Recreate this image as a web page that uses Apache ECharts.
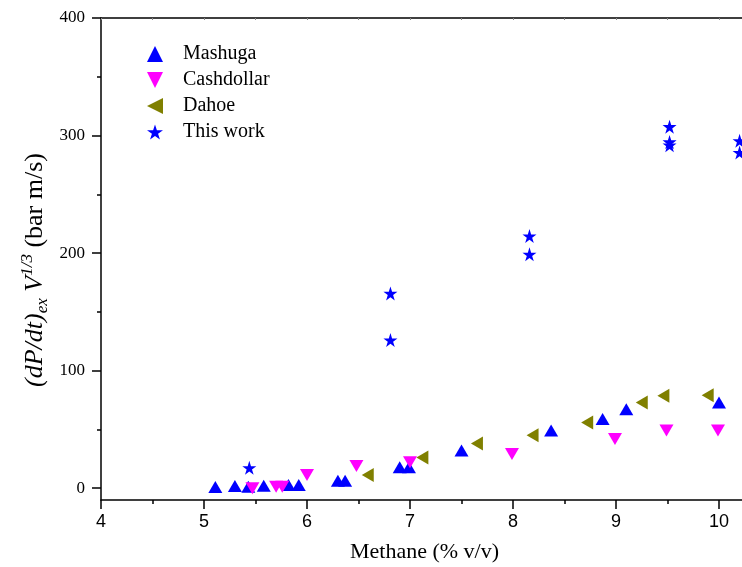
<!DOCTYPE html>
<html>
<head>
<meta charset="utf-8">
<script src="https://cdn.jsdelivr.net/npm/echarts@6/dist/echarts.min.js"></script>
<style>
html,body{margin:0;padding:0;background:#fff;}
#chart{width:742px;height:567px;}
</style>
</head>
<body>
<div id="chart"></div>
<script>
var mashugaX = [5.11, 5.30, 5.43, 5.58, 5.82, 5.92, 6.30, 6.37, 6.90, 6.99, 7.50, 8.37, 8.87, 9.10, 10.00];
var mashugaY = [1.1, 2.0, 1.3, 2.1, 2.7, 2.7, 6.3, 6.3, 17.9, 17.9, 32.0, 49.1, 58.9, 67.2, 72.9];
var cashdollarX = [5.47, 5.70, 5.76, 6.00, 6.48, 7.00, 7.99, 8.99, 9.49, 9.99];
var cashdollarY = [-0.1, 1.3, 1.3, 11.2, 18.9, 22.1, 29.1, 41.9, 49.1, 49.1];
var dahoeX = [6.59, 7.12, 7.65, 8.19, 8.72, 9.25, 9.46, 9.89];
var dahoeY = [11.2, 26.2, 38.0, 45.0, 55.9, 73.0, 78.6, 79.2];
var thisWorkX = [5.44, 6.81, 6.81, 8.16, 8.16, 9.52, 9.52, 9.52, 10.20, 10.20];
var thisWorkY = [17.4, 165.7, 126.0, 214.5, 199.0, 307.5, 294.5, 291.8, 295.5, 285.5];
var seriesNames = ['Mashuga', 'Cashdollar', 'Dahoe', 'This work'];
var xTicks = [4, 5, 6, 7, 8, 9, 10];
var yTicks = [0, 100, 200, 300, 400];
var yMinorTicks = [50, 150, 250, 350];

function pairs(xs, ys) { return xs.map(function (x, i) { return [x, ys[i]]; }); }

var upTri = 'path://M5,0 L10,10 L0,10 Z';
var downTri = 'path://M0,0 L10,0 L5,10 Z';
var leftTri = 'path://M10,0 L10,10 L0,5 Z';
var star = 'path://M50,0 L61.23,34.55 L97.55,34.55 L68.17,55.9 L79.39,90.45 L50,69.1 L20.61,90.45 L31.83,55.9 L2.45,34.55 L38.77,34.55 Z';

var serif = '"Liberation Serif", "Times New Roman", serif';
var sans = '"Liberation Sans", Arial, sans-serif';

var chart = echarts.init(document.getElementById('chart'), null, { renderer: 'canvas' });
var axisLine = { show: true, onZero: false, lineStyle: { color: '#000', width: 1.5 } };

chart.setOption({
  animation: false,
  backgroundColor: '#fff',
  grid: { left: 101, top: 18, width: 669.5, height: 482, containLabel: false, outerBoundsMode: 'none' },
  legend: {
    orient: 'vertical', left: 147, top: 44, padding: 0,
    itemWidth: 16, itemHeight: 16, itemGap: 6,
    data: seriesNames,
    textStyle: { fontFamily: serif, fontSize: 20, color: '#000', lineHeight: 20, padding: [0, 0, 0, 15] }
  },
  xAxis: [{
    type: 'value', min: 4, max: 10.5, interval: 1, position: 'bottom',
    axisLine: axisLine,
    axisTick: { show: true, inside: false, length: 9, lineStyle: { color: '#000', width: 1.5 } },
    minorTick: { show: true, splitNumber: 2, length: 4, lineStyle: { color: '#000', width: 1.5 } },
    splitLine: { show: false }, minorSplitLine: { show: false },
    axisLabel: { show: true, margin: 13, fontFamily: sans, fontSize: 18, color: '#000',
      customValues: xTicks, hideOverlap: false }
  }, {
    type: 'value', min: 4, max: 10.5, interval: 1, position: 'top',
    axisLine: axisLine,
    axisTick: { show: true, inside: true, length: 2, lineStyle: { color: '#888', width: 1 } },
    minorTick: { show: true, splitNumber: 2, length: 2, lineStyle: { color: '#888', width: 1 } },
    splitLine: { show: false }, axisLabel: { show: false }
  }],
  yAxis: [{
    type: 'value', min: -10, max: 400, position: 'left',
    axisLine: axisLine,
    axisTick: { show: true, inside: false, length: 9, customValues: yTicks, lineStyle: { color: '#000', width: 1.5 } },
    splitLine: { show: false },
    axisLabel: { show: true, margin: 16, fontFamily: serif, fontSize: 17, color: '#000', customValues: yTicks }
  }, {
    type: 'value', min: -10, max: 400, position: 'left', offset: 0,
    axisLine: { show: false },
    axisTick: { show: true, inside: false, length: 4, customValues: yMinorTicks, lineStyle: { color: '#000', width: 1.5 } },
    splitLine: { show: false },
    axisLabel: { show: false }
  }],
  series: [{
    name: 'Mashuga', type: 'scatter', clip: false, symbol: upTri, symbolSize: [14, 12],
    itemStyle: { color: '#0000ff', opacity: 1 }, data: pairs(mashugaX, mashugaY)
  }, {
    name: 'Cashdollar', type: 'scatter', clip: false, symbol: downTri, symbolSize: [14, 12],
    itemStyle: { color: '#ff00ff', opacity: 1 }, data: pairs(cashdollarX, cashdollarY)
  }, {
    name: 'Dahoe', type: 'scatter', clip: false, symbol: leftTri, symbolSize: [12, 14],
    itemStyle: { color: '#808000', opacity: 1 }, data: pairs(dahoeX, dahoeY)
  }, {
    name: 'This work', type: 'scatter', clip: false, symbol: star, symbolSize: [14, 14],
    itemStyle: { color: '#0000ff', opacity: 1 }, data: pairs(thisWorkX, thisWorkY)
  }],
  graphic: [{
    type: 'text', left: 350, top: 541,
    style: { text: 'Methane (% v/v)', font: '22px ' + serif, fill: '#000' }
  }, {
    type: 'text', x: 35, y: 270, rotation: Math.PI / 2,
    style: {
      text: '{a|(dP/dt)}{s|ex}{a| V}{p|1/3}{b| (bar m/s)}',
      align: 'center', verticalAlign: 'middle', fill: '#000',
      rich: {
        a: { fontFamily: serif, fontStyle: 'italic', fontSize: 26, lineHeight: 32, verticalAlign: 'middle' },
        s: { fontFamily: serif, fontStyle: 'italic', fontSize: 17, lineHeight: 17, verticalAlign: 'bottom' },
        p: { fontFamily: serif, fontStyle: 'italic', fontSize: 17, lineHeight: 17, verticalAlign: 'top' },
        b: { fontFamily: serif, fontSize: 26, lineHeight: 32, verticalAlign: 'middle' }
      }
    }
  }]
});
</script>
</body>
</html>
